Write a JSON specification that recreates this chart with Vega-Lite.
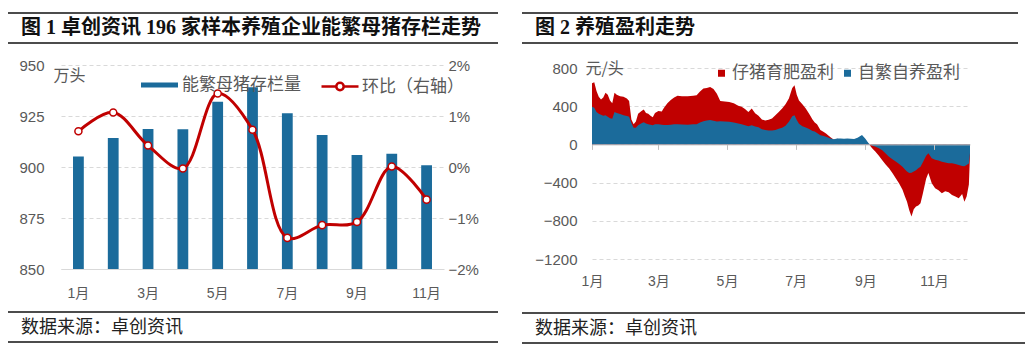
{
  "$schema": "https://vega.github.io/schema/vega-lite/v6.json",
  "background": "white",
  "padding": {"left": 7, "top": 12, "right": 0, "bottom": 0},
  "spacing": 22,
  "config": {
    "view": {"stroke": null},
    "axis": {"labelFont": "Liberation Sans, Noto Sans CJK SC", "titleFont": "Noto Sans CJK SC", "labelColor": "#595959", "labelOverlap": false},
    "legend": {"labelFont": "Noto Sans CJK SC", "labelColor": "#595959", "padding": 0}
  },
  "resolve": {"scale": {"fill": "independent", "stroke": "independent"}, "legend": {"fill": "independent", "stroke": "independent"}},
  "hconcat": [
    {
      "columns": 1, "spacing": 0,
      "resolve": {"scale": {"fill": "independent", "stroke": "independent"}, "legend": {"fill": "independent", "stroke": "independent"}},
      "concat": [
        {
          "width": 437, "height": 45,
          "encoding": {"x": {"datum": 0, "type": "quantitative", "scale": {"domain": [0, 1], "range": [-53, 437], "nice": false, "zero": false}, "axis": null}},
          "layer": [
            {"data": {"values": [{"p": 0}, {"p": 30}]}, "mark": {"type": "rule", "color": "#111", "strokeWidth": 1.5},
             "encoding": {"x2": {"datum": 1}, "y": {"field": "p", "type": "quantitative", "scale": {"domain": [0, 45], "nice": false, "reverse": true}, "axis": null}}},
            {"data": {"values": [{"p": 15, "t": "图 1  卓创资讯 196 家样本养殖企业能繁母猪存栏走势"}]},
             "mark": {"type": "text", "align": "left", "baseline": "middle", "dx": 13, "font": "Liberation Serif, Noto Sans CJK SC", "fontWeight": "bold", "fontSize": 20, "color": "#111"},
             "encoding": {"y": {"field": "p", "type": "quantitative"}, "text": {"field": "t"}}}
          ]
        },
        {
          "width": 383, "height": 204,
          "data": {"values": [
            {"m": "1月", "stock": 905.1, "mom": 0.70},
            {"m": "2月", "stock": 914.2, "mom": 1.07},
            {"m": "3月", "stock": 918.6, "mom": 0.42},
            {"m": "4月", "stock": 918.5, "mom": -0.03},
            {"m": "5月", "stock": 932.0, "mom": 1.44},
            {"m": "6月", "stock": 939.1, "mom": 0.73},
            {"m": "7月", "stock": 926.3, "mom": -1.39},
            {"m": "8月", "stock": 915.7, "mom": -1.14},
            {"m": "9月", "stock": 905.9, "mom": -1.08},
            {"m": "10月", "stock": 906.5, "mom": 0.01},
            {"m": "11月", "stock": 900.8, "mom": -0.64}
          ]},
          "encoding": {
            "x": {"field": "m", "type": "ordinal", "sort": null,
                  "scale": {"paddingInner": 0.69, "paddingOuter": 0.345},
                  "axis": {"title": null, "values": ["1月", "3月", "5月", "7月", "9月", "11月"], "labelAngle": 0, "ticks": false, "domainColor": "#d9d9d9", "labelPadding": 17, "labelFontSize": 14, "labelOverlap": false}}
          },
          "layer": [
            {
              "mark": {"type": "bar"},
              "encoding": {
                "y": {"field": "stock", "type": "quantitative", "scale": {"domain": [850, 950], "zero": false, "nice": false},
                      "axis": {"orient": "left", "values": [850, 875, 900, 925, 950], "tickCount": 10, "grid": true, "gridDash": [4, 3], "gridColor": "#d9d9d9", "domain": false, "ticks": false, "labelPadding": 17, "labelFontSize": 15, "minExtent": 53, "labelOverlap": false,
                               "title": "万头", "titleAngle": 0, "titleX": -8, "titleY": 10, "titleAlign": "left", "titleBaseline": "middle", "titleFontSize": 16, "titleFontWeight": "normal", "titleColor": "#595959"}},
                "y2": {"datum": 850},
                "fill": {"datum": "能繁母猪存栏量", "scale": {"domain": ["能繁母猪存栏量"], "range": ["#1b6b9b"]},
                         "legend": {"orient": "none", "legendX": 80, "legendY": 1.5, "direction": "horizontal", "title": null, "symbolType": "M-1,-0.14H1V0.14H-1Z", "symbolSize": 1369, "symbolStrokeWidth": 0, "labelFontSize": 17, "labelOffset": 4}}
              }
            },
            {
              "encoding": {
                "y": {"field": "mom", "type": "quantitative", "scale": {"domain": [-2, 2], "nice": false},
                      "axis": {"orient": "right", "values": [-2, -1, 0, 1, 2], "tickCount": 10, "labelExpr": "format(datum.value, 'd') + '%'", "grid": false, "domain": false, "ticks": false, "labelPadding": 4, "labelFontSize": 15, "title": null, "labelOverlap": false}}
              },
              "layer": [
                {"mark": {"type": "line", "interpolate": "catmull-rom", "strokeWidth": 3},
                 "encoding": {"stroke": {"datum": "环比（右轴）", "scale": {"domain": ["环比（右轴）"], "range": ["#c00000"]},
                   "legend": {"orient": "none", "legendX": 259, "legendY": 1.5, "direction": "horizontal", "title": null, "symbolType": "M-1,0H-0.2M0.2,0H1M0.2,0A0.2,0.2,0,1,1,-0.2,0A0.2,0.2,0,1,1,0.2,0Z", "symbolSize": 1369, "symbolStrokeWidth": 2.5, "symbolFillColor": "#ffffff", "labelFontSize": 17, "labelOffset": 2}}}},
                {"mark": {"type": "point", "filled": true, "fill": "#ffffff", "stroke": "#c00000", "strokeWidth": 1.5, "size": 50, "opacity": 1}}
              ]
            }
          ],
          "resolve": {"scale": {"y": "independent"}}
        },
        {
          "width": 437, "height": 42,
          "encoding": {"x": {"datum": 0, "type": "quantitative", "scale": {"domain": [0, 1], "range": [-53, 437], "nice": false, "zero": false}, "axis": null}},
          "layer": [
            {"data": {"values": [{"p": 12}, {"p": 42}]}, "mark": {"type": "rule", "color": "#111", "strokeWidth": 1.5},
             "encoding": {"x2": {"datum": 1}, "y": {"field": "p", "type": "quantitative", "scale": {"domain": [0, 42], "nice": false, "reverse": true}, "axis": null}}},
            {"data": {"values": [{"p": 28, "t": "数据来源：卓创资讯"}]},
             "mark": {"type": "text", "align": "left", "baseline": "middle", "dx": 13, "font": "Noto Sans CJK SC", "fontSize": 18, "color": "#222"},
             "encoding": {"y": {"field": "p", "type": "quantitative"}, "text": {"field": "t"}}}
          ]
        }
      ]
    },
    {
      "columns": 1, "spacing": 0,
      "resolve": {"scale": {"fill": "independent", "stroke": "independent"}, "legend": {"fill": "independent", "stroke": "independent"}},
      "concat": [
        {
          "width": 426, "height": 47,
          "encoding": {"x": {"datum": 0, "type": "quantitative", "scale": {"domain": [0, 1], "range": [-70, 426], "nice": false, "zero": false}, "axis": null}},
          "layer": [
            {"data": {"values": [{"p": 0}, {"p": 30}]}, "mark": {"type": "rule", "color": "#111", "strokeWidth": 1.5},
             "encoding": {"x2": {"datum": 1}, "y": {"field": "p", "type": "quantitative", "scale": {"domain": [0, 47], "nice": false, "reverse": true}, "axis": null}}},
            {"data": {"values": [{"p": 15, "t": "图 2  养殖盈利走势"}]},
             "mark": {"type": "text", "align": "left", "baseline": "middle", "dx": 13, "font": "Liberation Serif, Noto Sans CJK SC", "fontWeight": "bold", "fontSize": 20, "color": "#111"},
             "encoding": {"y": {"field": "p", "type": "quantitative"}, "text": {"field": "t"}}}
          ]
        },
        {
          "width": 378, "height": 191,
          "data": {"values": [
            {"d": "2023-01-01", "fat": 640, "self": 395},
            {"d": "2023-01-03", "fat": 650, "self": 385},
            {"d": "2023-01-05", "fat": 560, "self": 340},
            {"d": "2023-01-07", "fat": 500, "self": 320},
            {"d": "2023-01-09", "fat": 470, "self": 310},
            {"d": "2023-01-11", "fat": 490, "self": 300},
            {"d": "2023-01-13", "fat": 540, "self": 305},
            {"d": "2023-01-15", "fat": 520, "self": 290},
            {"d": "2023-01-17", "fat": 460, "self": 275},
            {"d": "2023-01-19", "fat": 430, "self": 268},
            {"d": "2023-01-21", "fat": 540, "self": 340},
            {"d": "2023-01-23", "fat": 520, "self": 330},
            {"d": "2023-01-26", "fat": 505, "self": 318},
            {"d": "2023-01-29", "fat": 500, "self": 305},
            {"d": "2023-02-01", "fat": 480, "self": 298},
            {"d": "2023-02-03", "fat": 455, "self": 290},
            {"d": "2023-02-05", "fat": 260, "self": 225},
            {"d": "2023-02-07", "fat": 210, "self": 175},
            {"d": "2023-02-09", "fat": 240, "self": 175},
            {"d": "2023-02-11", "fat": 320, "self": 200},
            {"d": "2023-02-14", "fat": 350, "self": 222},
            {"d": "2023-02-16", "fat": 365, "self": 232},
            {"d": "2023-02-18", "fat": 330, "self": 218},
            {"d": "2023-02-20", "fat": 320, "self": 212},
            {"d": "2023-02-22", "fat": 300, "self": 205},
            {"d": "2023-02-24", "fat": 285, "self": 200},
            {"d": "2023-02-26", "fat": 330, "self": 210},
            {"d": "2023-03-01", "fat": 350, "self": 212},
            {"d": "2023-03-04", "fat": 345, "self": 205},
            {"d": "2023-03-06", "fat": 385, "self": 202},
            {"d": "2023-03-09", "fat": 430, "self": 202},
            {"d": "2023-03-12", "fat": 465, "self": 205},
            {"d": "2023-03-15", "fat": 490, "self": 210},
            {"d": "2023-03-18", "fat": 510, "self": 212},
            {"d": "2023-03-22", "fat": 505, "self": 208},
            {"d": "2023-03-27", "fat": 505, "self": 205},
            {"d": "2023-04-01", "fat": 510, "self": 212},
            {"d": "2023-04-04", "fat": 515, "self": 212},
            {"d": "2023-04-07", "fat": 555, "self": 230},
            {"d": "2023-04-10", "fat": 585, "self": 243},
            {"d": "2023-04-13", "fat": 590, "self": 250},
            {"d": "2023-04-16", "fat": 600, "self": 255},
            {"d": "2023-04-19", "fat": 580, "self": 248},
            {"d": "2023-04-22", "fat": 530, "self": 240},
            {"d": "2023-04-25", "fat": 455, "self": 243},
            {"d": "2023-04-29", "fat": 450, "self": 240},
            {"d": "2023-05-03", "fat": 445, "self": 238},
            {"d": "2023-05-07", "fat": 430, "self": 230},
            {"d": "2023-05-11", "fat": 405, "self": 220},
            {"d": "2023-05-14", "fat": 395, "self": 212},
            {"d": "2023-05-17", "fat": 370, "self": 200},
            {"d": "2023-05-20", "fat": 340, "self": 190},
            {"d": "2023-05-23", "fat": 375, "self": 200},
            {"d": "2023-05-26", "fat": 325, "self": 188},
            {"d": "2023-05-29", "fat": 300, "self": 180},
            {"d": "2023-06-01", "fat": 260, "self": 158},
            {"d": "2023-06-04", "fat": 250, "self": 150},
            {"d": "2023-06-07", "fat": 258, "self": 145},
            {"d": "2023-06-10", "fat": 270, "self": 146},
            {"d": "2023-06-13", "fat": 305, "self": 150},
            {"d": "2023-06-16", "fat": 340, "self": 165},
            {"d": "2023-06-19", "fat": 375, "self": 175},
            {"d": "2023-06-22", "fat": 420, "self": 195},
            {"d": "2023-06-25", "fat": 480, "self": 236},
            {"d": "2023-06-28", "fat": 590, "self": 295},
            {"d": "2023-06-30", "fat": 620, "self": 305},
            {"d": "2023-07-02", "fat": 520, "self": 255},
            {"d": "2023-07-04", "fat": 460, "self": 215},
            {"d": "2023-07-07", "fat": 420, "self": 190},
            {"d": "2023-07-10", "fat": 375, "self": 177},
            {"d": "2023-07-13", "fat": 320, "self": 160},
            {"d": "2023-07-16", "fat": 260, "self": 140},
            {"d": "2023-07-18", "fat": 230, "self": 135},
            {"d": "2023-07-20", "fat": 210, "self": 120},
            {"d": "2023-07-23", "fat": 150, "self": 97},
            {"d": "2023-07-26", "fat": 130, "self": 88},
            {"d": "2023-07-28", "fat": 115, "self": 80},
            {"d": "2023-08-01", "fat": 75, "self": 62},
            {"d": "2023-08-04", "fat": 50, "self": 55},
            {"d": "2023-08-07", "fat": 60, "self": 62},
            {"d": "2023-08-10", "fat": 50, "self": 63},
            {"d": "2023-08-13", "fat": 40, "self": 60},
            {"d": "2023-08-16", "fat": 48, "self": 62},
            {"d": "2023-08-19", "fat": 35, "self": 58},
            {"d": "2023-08-22", "fat": 28, "self": 56},
            {"d": "2023-08-25", "fat": 45, "self": 70},
            {"d": "2023-08-29", "fat": 85, "self": 98},
            {"d": "2023-09-01", "fat": 50, "self": 60},
            {"d": "2023-09-04", "fat": 5, "self": 10},
            {"d": "2023-09-07", "fat": -40, "self": -12},
            {"d": "2023-09-10", "fat": -77, "self": -24},
            {"d": "2023-09-13", "fat": -120, "self": -40},
            {"d": "2023-09-16", "fat": -165, "self": -60},
            {"d": "2023-09-19", "fat": -210, "self": -95},
            {"d": "2023-09-22", "fat": -250, "self": -130},
            {"d": "2023-09-25", "fat": -300, "self": -155},
            {"d": "2023-09-28", "fat": -355, "self": -180},
            {"d": "2023-10-01", "fat": -410, "self": -205},
            {"d": "2023-10-04", "fat": -475, "self": -235},
            {"d": "2023-10-06", "fat": -540, "self": -260},
            {"d": "2023-10-08", "fat": -600, "self": -285},
            {"d": "2023-10-10", "fat": -690, "self": -300},
            {"d": "2023-10-12", "fat": -755, "self": -298},
            {"d": "2023-10-14", "fat": -680, "self": -285},
            {"d": "2023-10-16", "fat": -650, "self": -270},
            {"d": "2023-10-18", "fat": -640, "self": -250},
            {"d": "2023-10-20", "fat": -615, "self": -233},
            {"d": "2023-10-22", "fat": -520, "self": -190},
            {"d": "2023-10-25", "fat": -360, "self": -120},
            {"d": "2023-10-27", "fat": -300, "self": -92},
            {"d": "2023-10-30", "fat": -407, "self": -146},
            {"d": "2023-11-02", "fat": -460, "self": -160},
            {"d": "2023-11-05", "fat": -480, "self": -168},
            {"d": "2023-11-08", "fat": -511, "self": -181},
            {"d": "2023-11-11", "fat": -490, "self": -190},
            {"d": "2023-11-14", "fat": -500, "self": -198},
            {"d": "2023-11-17", "fat": -529, "self": -198},
            {"d": "2023-11-20", "fat": -545, "self": -205},
            {"d": "2023-11-23", "fat": -565, "self": -216},
            {"d": "2023-11-26", "fat": -520, "self": -225},
            {"d": "2023-11-28", "fat": -600, "self": -230},
            {"d": "2023-11-30", "fat": -546, "self": -216},
            {"d": "2023-12-02", "fat": -420, "self": -200},
            {"d": "2023-12-03", "fat": -110, "self": -90}
          ]},
          "encoding": {
            "x": {"field": "d", "type": "temporal",
                  "scale": {"type": "utc", "nice": false, "domain": [{"year": 2023, "month": 1, "date": 1, "utc": true}, {"year": 2023, "month": 12, "date": 3, "utc": true}]},
                  "axis": {"title": null, "grid": false, "zindex": 1, "offset": -114.6, "tickSize": 5, "labelPadding": 125, "domainColor": "#bfbfbf", "tickColor": "#bfbfbf", "labelFontSize": 14, "labelFlush": false, "labelOverlap": false, "tickCount": 12,
                           "values": [{"year": 2023, "month": 1, "date": 1, "utc": true}, {"year": 2023, "month": 3, "date": 1, "utc": true}, {"year": 2023, "month": 5, "date": 1, "utc": true}, {"year": 2023, "month": 7, "date": 1, "utc": true}, {"year": 2023, "month": 9, "date": 1, "utc": true}, {"year": 2023, "month": 11, "date": 1, "utc": true}],
                           "labelExpr": "(utcmonth(datum.value) + 1) + '月'"}}
          },
          "layer": [
            {
              "mark": {"type": "area", "opacity": 1},
              "encoding": {
                "y": {"field": "fat", "type": "quantitative", "stack": null, "scale": {"domain": [-1200, 800], "nice": false},
                      "axis": {"values": [-1200, -800, -400, 0, 400, 800], "tickCount": 12, "format": "d", "grid": true, "gridDash": [4, 3], "gridColor": "#d9d9d9", "domain": false, "ticks": false, "labelPadding": 15, "labelFontSize": 15, "minExtent": 70, "labelOverlap": false,
                               "title": "元/头", "titleAngle": 0, "titleX": -7, "titleY": 0, "titleAlign": "left", "titleBaseline": "middle", "titleFontSize": 16, "titleFontWeight": "normal", "titleColor": "#595959"}},
                "fill": {"datum": "仔猪育肥盈利", "scale": {"domain": ["仔猪育肥盈利", "自繁自养盈利"], "range": ["#c00000", "#1b6b9b"]},
                         "legend": {"orient": "none", "legendX": 121, "legendY": -3.5, "direction": "horizontal", "title": null, "symbolType": "square", "symbolSize": 49, "symbolStrokeWidth": 0, "labelFontSize": 17, "labelOffset": 2, "columnPadding": 5}}
              }
            },
            {
              "mark": {"type": "area", "opacity": 1},
              "encoding": {
                "y": {"field": "self", "type": "quantitative", "stack": null},
                "fill": {"datum": "自繁自养盈利"}
              }
            }
          ]
        },
        {
          "width": 433, "height": 54,
          "encoding": {"x": {"datum": 0, "type": "quantitative", "scale": {"domain": [0, 1], "range": [-70, 433], "nice": false, "zero": false}, "axis": null}},
          "layer": [
            {"data": {"values": [{"p": 24}, {"p": 54}]}, "mark": {"type": "rule", "color": "#111", "strokeWidth": 1.5},
             "encoding": {"x2": {"datum": 1}, "y": {"field": "p", "type": "quantitative", "scale": {"domain": [0, 54], "nice": false, "reverse": true}, "axis": null}}},
            {"data": {"values": [{"p": 40, "t": "数据来源：卓创资讯"}]},
             "mark": {"type": "text", "align": "left", "baseline": "middle", "dx": 13, "font": "Noto Sans CJK SC", "fontSize": 18, "color": "#222"},
             "encoding": {"y": {"field": "p", "type": "quantitative"}, "text": {"field": "t"}}}
          ]
        }
      ]
    }
  ]
}
